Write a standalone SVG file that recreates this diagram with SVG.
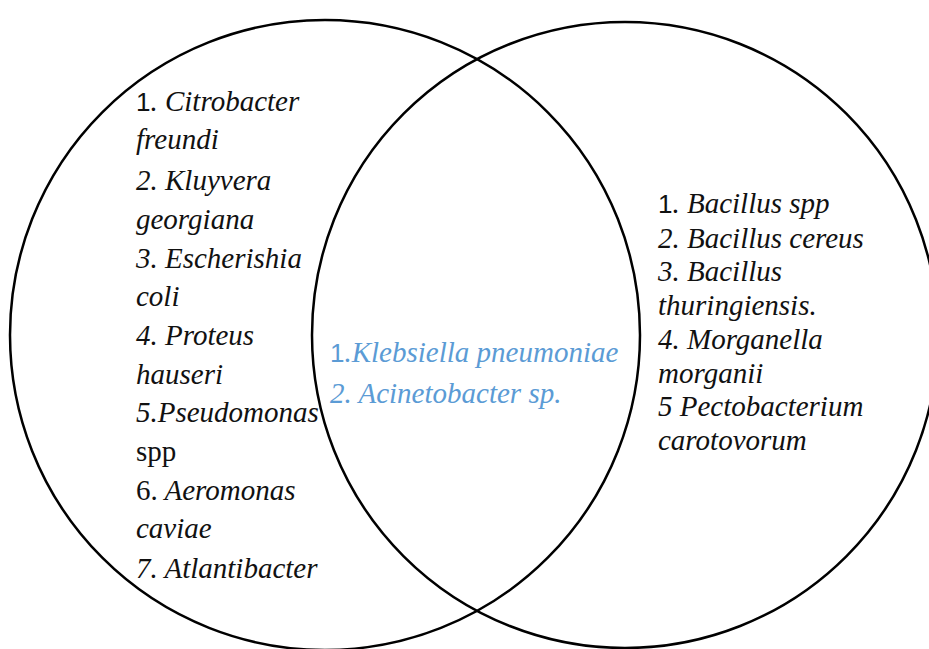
<svg xmlns="http://www.w3.org/2000/svg" width="929" height="649" viewBox="0 0 929 649">
<style>
.c{fill:none;stroke:#000;stroke-width:2.5}
text{font-family:'Liberation Serif','DejaVu Serif',serif;font-size:29px;font-style:italic;fill:#111}
.u{font-style:normal}
.s{font-family:'Liberation Sans',sans-serif;font-style:normal;font-size:26px}
.b{fill:#5b9bd5}
</style>
<rect width="929" height="649" fill="#fff"/>
<g id="left-circle"><circle class="c" cx="325" cy="335" r="315"/></g>
<g id="right-circle"><circle class="c" cx="625" cy="335" r="313"/></g>
<g id="left-list">
<text x="136" y="111"><tspan class="s">1</tspan>. Citrobacter</text>
<text x="136" y="149">freundi</text>
<text x="136" y="190">2. Kluyvera</text>
<text x="136" y="229">georgiana</text>
<text x="136" y="268">3. Escherishia</text>
<text x="136" y="306">coli</text>
<text x="136" y="345">4. Proteus</text>
<text x="136" y="384">hauseri</text>
<text x="136" y="422">5.Pseudomonas</text>
<text class="u" x="136" y="461">spp</text>
<text x="136" y="500"><tspan class="u">6.</tspan> Aeromonas</text>
<text x="136" y="538">caviae</text>
<text x="136" y="578">7. Atlantibacter</text>
</g>
<g id="middle-list">
<text class="b" x="330" y="362"><tspan class="s">1</tspan>.Klebsiella pneumoniae</text>
<text class="b" x="330" y="403">2. Acinetobacter sp.</text>
</g>
<g id="right-list">
<text x="658" y="213"><tspan class="s">1</tspan>. Bacillus spp</text>
<text x="658" y="248">2. Bacillus cereus</text>
<text x="658" y="281">3. Bacillus</text>
<text x="658" y="315">thuringiensis.</text>
<text x="658" y="349">4. Morganella</text>
<text x="658" y="383">morganii</text>
<text x="658" y="416">5 Pectobacterium</text>
<text x="658" y="450">carotovorum</text>
</g>
</svg>
